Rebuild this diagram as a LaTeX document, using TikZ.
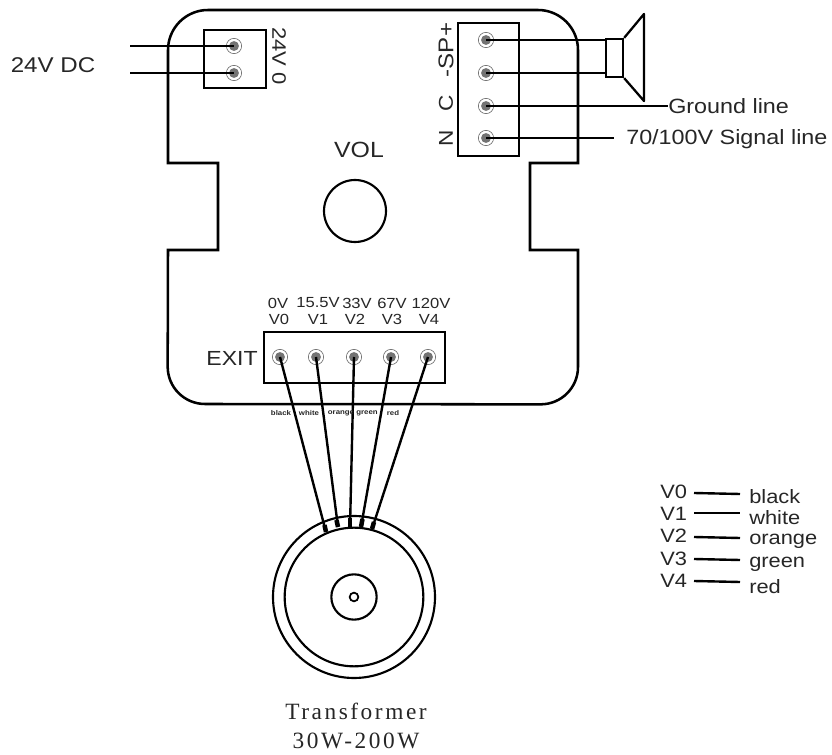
\documentclass[tikz,border=0pt]{standalone}
\usepackage{fontspec}
\setmainfont[FakeStretch=1.13]{Liberation Sans}
\newfontfamily\serifface[LetterSpace=11]{Liberation Serif}
\begin{document}
\begin{tikzpicture}[
       x=0.75pt,
       y=-0.75pt,
       wire/.style={line width=1.8pt},
       boardline/.style={line width=1.9pt},
       box/.style={rectangle, draw, line width=1.7pt, inner sep=0pt},
       pin/.style={
         circle,
         draw=black!65,
         line width=0.4pt,
         fill=white,
         inner sep=0pt,
         minimum size=11.5pt,
         path picture={\fill[black!55] (path picture bounding box.center) circle (3.7pt);}
       },
       ring/.style={circle, draw, line width=1.6pt, inner sep=0pt},
       tap/.style={line width=3.4pt},
       txt/.style={inner sep=0pt, text=black!85},
       big/.style={txt, font=\fontsize{15.5}{16}\selectfont},
       small/.style={txt, font=\fontsize{11}{11}\selectfont},
       tiny/.style={txt, font=\bfseries\fontsize{5.2}{5}\selectfont},
       legend/.style={txt, anchor=west, font=\fontsize{14.5}{15}\selectfont},
       caption/.style={txt, font=\serifface\fontsize{17.5}{18}\selectfont}
     ]

       \useasboundingbox (0,0) rectangle (832,755);

       % board
       \draw[boardline] (218,163) -- (168,163) -- (168,50) arc[start angle=180, end angle=90, radius=30pt]
         -- (538,10) arc[start angle=90, end angle=0, radius=30pt]
         -- (578,163) -- (530,163) -- (530,250) -- (578,250)
         -- (578,367) arc[start angle=0, end angle=-90, radius=28pt]
         -- (205,404) arc[start angle=-90, end angle=-180, radius=28pt]
         -- (168,250) -- (218,250) -- cycle;

       % terminal blocks
       \node (dcbox) at (235,59) [box, minimum width=46pt, minimum height=43.5pt]{};
       \node (spbox) at (488.5,89.5) [box, minimum width=45.7pt, minimum height=99.7pt]{};
       \node (exitbox) at (354.5,357.5) [box, minimum width=135.7pt, minimum height=38.2pt]{};

       \node (dc1) at (234,46) [pin]{};
       \node (dc2) at (234,73) [pin]{};

       \node (sp1) at (486,40) [pin]{};
       \node (sp2) at (486,73) [pin]{};
       \node (sp3) at (486,106) [pin]{};
       \node (sp4) at (486,138) [pin]{};

       \node (v0) at (280,357) [pin]{};
       \node (v1) at (316,357) [pin]{};
       \node (v2) at (354,357) [pin]{};
       \node (v3) at (391,357) [pin]{};
       \node (v4) at (428,357) [pin]{};

       % 24V input
       \coordinate (dcin1) at (130,46);
       \coordinate (dcin2) at (130,73);
       \draw[line width=2.1pt] (dcin1) -- (dc1.center);
       \draw[wire] (dcin2) -- (dc2.center);

       % speaker
       \node (cone) at (614.5,58) [box, minimum width=12.8pt, minimum height=28.5pt]{};
       \draw[line width=1.7pt, line join=round] (cone.north east) -- (644,14) -- (644,101) -- (cone.south east);
       \coordinate (spk1) at (cone.west |- sp1);
       \coordinate (spk2) at (cone.west |- sp2);
       \draw[wire] (sp1.center) -- (spk1);
       \draw[wire] (sp2.center) -- (spk2);

       % output lines
       \node (gnd) at (668,106) [big, anchor=west]{Ground line};
       \node (sig) at (626,139) [big, anchor=west]{70/100V Signal line};
       \draw[wire] (sp3.center) -- (gnd.west);
       \coordinate (sigend) at (614,138);
       \draw[wire] (sp4.center) -- (sigend);

       % volume
       \node (vol) at (355,211) [ring, minimum size=46.5pt]{};
       \node (vollabel) at (359,150) [txt, font=\fontsize{16.5}{17}\selectfont]{VOL};

       % transformer
       \node (core) at (354,597) [ring, minimum size=121.5pt]{};
       \node (inner) at (354,597) [ring, minimum size=104pt]{};
       \node (hub) at (354,597) [ring, minimum size=34pt]{};
       \node (eye) at (354,597) [circle, draw, line width=1.3pt, inner sep=0pt, minimum size=6.5pt]{};

       \coordinate (t0) at (323,520);
       \coordinate (t1) at (336,517);
       \coordinate (t2) at (350,515);
       \coordinate (t3) at (363,516);
       \coordinate (t4) at (375,519);
       \coordinate (u0) at (326,532);
       \coordinate (u1) at (338,527);
       \coordinate (u2) at (350,527);
       \coordinate (u3) at (361,527);
       \coordinate (u4) at (372,529);

       \draw[wire] (v0.center) -- (u0);
       \draw[wire] (v1.center) -- (u1);
       \draw[wire] (v2.center) -- (u2);
       \draw[wire] (v3.center) -- (u3);
       \draw[wire] (v4.center) -- (u4);

       \draw[tap] (t0) ++(1.5,5) -- (u0);
       \draw[tap] (t1) ++(0.5,3) -- (u1);
       \draw[tap] (t2) ++(0,3) -- (u2);
       \draw[tap] (t3) ++(-0.5,3) -- (u3);
       \draw[tap] (t4) ++(-1,3) -- (u4);

       % labels on the blocks
       \node at (279,56) [txt, rotate=-90, font=\fontsize{14.6}{15}\selectfont]{24V 0};
       \node at (446,50) [txt, rotate=90, font=\fontsize{16}{16}\selectfont]{-SP+};
       \node at (446,103) [txt, rotate=90, font=\fontsize{15}{15}\selectfont]{C};
       \node at (446,138) [txt, rotate=90, font=\fontsize{15}{15}\selectfont]{N};
       \node at (53,65) [txt, font=\fontsize{16}{16}\selectfont]{24V DC};
       \node at (232,358) [txt, font=\fontsize{15.3}{15}\selectfont]{EXIT};

       \node at (278,303) [small]{0V};
       \node at (318,303) [small]{15.5V};
       \node at (357,303) [small]{33V};
       \node at (392,303) [small]{67V};
       \node at (431,303) [small]{120V};
       \node at (279,319) [small]{V0};
       \node at (318,319) [small]{V1};
       \node at (355,319) [small]{V2};
       \node at (392,319) [small]{V3};
       \node at (429,319) [small]{V4};

       \node at (281,413) [tiny]{black};
       \node at (309,413) [tiny]{white};
       \node at (341,413) [tiny]{orange};
       \node at (367,413) [tiny]{green};
       \node at (393,413) [tiny]{red};

       % colour key
       \node (k0) at (660,492) [legend]{V0};
       \node (k1) at (660,514) [legend]{V1};
       \node (k2) at (660,536) [legend]{V2};
       \node (k3) at (660,559) [legend]{V3};
       \node (k4) at (660,581) [legend]{V4};
       \node (c0) at (749,497) [legend]{black};
       \node (c1) at (749,518) [legend]{white};
       \node (c2) at (749,541) [legend]{orange};
       \node (c3) at (749,564) [legend]{green};
       \node (c4) at (749,587) [legend]{red};
       \coordinate (e0) at (694,493);
       \coordinate (e1) at (694,513);
       \coordinate (e2) at (694,537);
       \coordinate (e3) at (694,559);
       \coordinate (e4) at (694,581);
       \coordinate (f0) at (740,494);
       \coordinate (f1) at (740,513);
       \coordinate (f2) at (740,538);
       \coordinate (f3) at (740,560);
       \coordinate (f4) at (740,582);
       \draw[wire] (e0) -- (f0);
       \draw[wire] (e1) -- (f1);
       \draw[wire] (e2) -- (f2);
       \draw[wire] (e3) -- (f3);
       \draw[wire] (e4) -- (f4);

       % caption
       \node at (356,711) [caption]{Transformer};
       \node at (356,741) [caption]{30W-200W};

\end{tikzpicture}
\end{document}
